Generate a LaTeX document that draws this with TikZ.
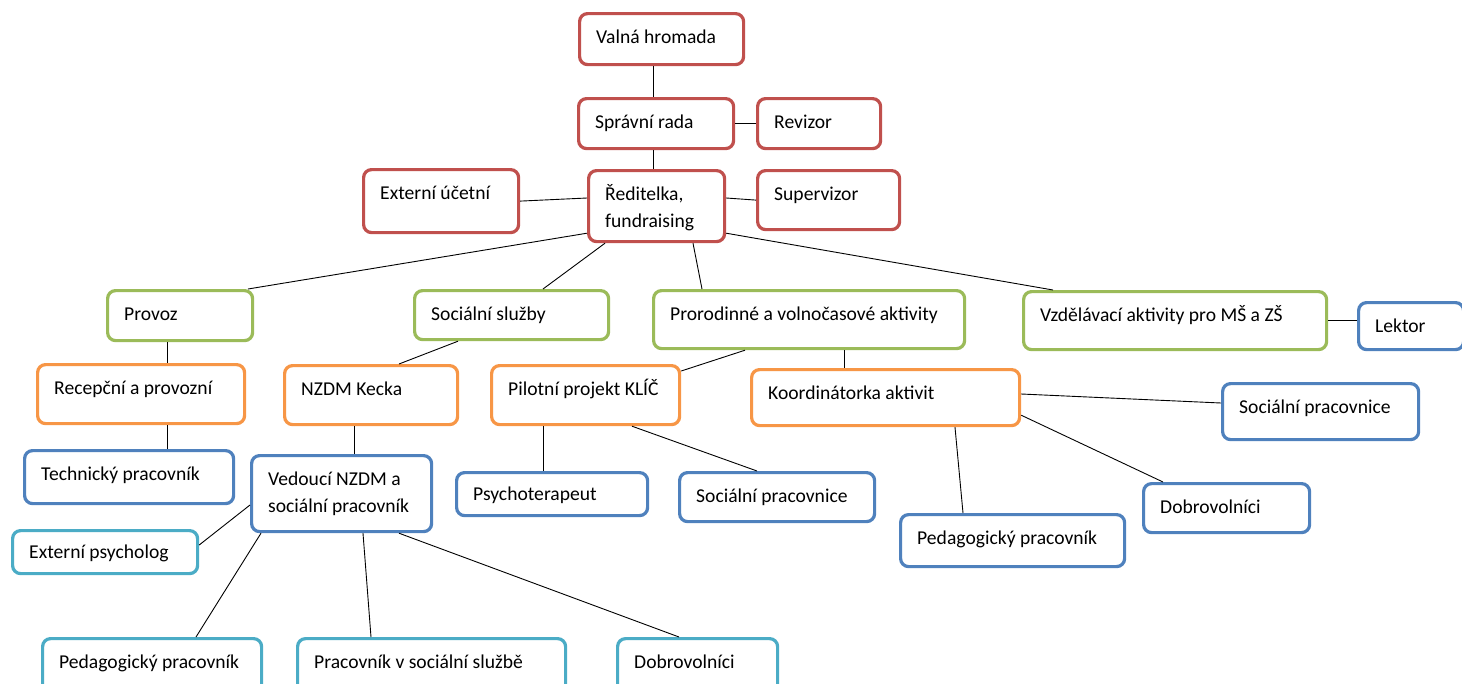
\documentclass[tikz,border=0pt]{standalone}
\usepackage{fontspec}
\setmainfont{Carlito}
\usetikzlibrary{positioning}
\definecolor{unitred}{HTML}{C0504D}
\definecolor{unitgreen}{HTML}{9BBB59}
\definecolor{unitorange}{HTML}{F79646}
\definecolor{unitblue}{HTML}{4F81BD}
\definecolor{unitaqua}{HTML}{4BACC6}
\tikzstyle{unit} = [rectangle, rounded corners=8pt, line width=3.2pt, fill=white, anchor=north west, inner sep=0pt]
\tikzstyle{board} = [unit, draw=unitred]
\tikzstyle{branch} = [unit, draw=unitgreen]
\tikzstyle{project} = [unit, draw=unitorange]
\tikzstyle{staff} = [unit, draw=unitblue]
\tikzstyle{guest} = [unit, draw=unitaqua]
\tikzstyle{caption} = [anchor=base west, inner sep=0pt, align=left, font={\fontsize{19.6}{27.5}\selectfont}]
\tikzstyle{link} = [line width=0.9pt]

\begin{document}
\begin{tikzpicture}[x=1pt, y=-1pt]
    \useasboundingbox (0,0) rectangle (1462,683);
    % top: board and management
    \node (val) [board, minimum width=164pt, minimum height=51pt] at (578,12) {};
    \node (sprava) [board, minimum width=155pt, minimum height=50pt] at (577,97) {};
    \node (revizor) [board, minimum width=123pt, minimum height=50pt] at (756,97) {};
    \node (ucetni) [board, minimum width=155pt, minimum height=63pt] at (362,168) {};
    \node (reditelka) [board, minimum width=136pt, minimum height=71pt] at (587,169) {};
    \node (supervizor) [board, minimum width=142pt, minimum height=59pt] at (756,169) {};
    % sections
    \node (provoz) [branch, minimum width=145pt, minimum height=50pt] at (106,289) {};
    \node (socsluzby) [branch, minimum width=194pt, minimum height=49pt] at (413,289) {};
    \node (prorodinne) [branch, minimum width=311pt, minimum height=58pt] at (652,289) {};
    \node (vzdelavaci) [branch, minimum width=303pt, minimum height=58pt] at (1022,290) {};
    % projects
    \node (recepcni) [project, minimum width=207pt, minimum height=59pt] at (36,363) {};
    \node (nzdm) [project, minimum width=173pt, minimum height=59pt] at (283,364) {};
    \node (pilot) [project, minimum width=188pt, minimum height=59pt] at (490,364) {};
    \node (koord) [project, minimum width=268pt, minimum height=56pt] at (750,368) {};
    % staff
    \node (lektor) [staff, minimum width=105pt, minimum height=47pt] at (1357,301) {};
    \node (technicky) [staff, minimum width=209pt, minimum height=53pt] at (23,449) {};
    \node (vedouci) [staff, minimum width=180pt, minimum height=76pt] at (250,454) {};
    \node (psycho) [staff, minimum width=191pt, minimum height=43pt] at (455,471) {};
    \node (socprac1) [staff, minimum width=195pt, minimum height=49pt] at (678,471) {};
    \node (socprac2) [staff, minimum width=196pt, minimum height=56pt] at (1221,382) {};
    \node (dobro2) [staff, minimum width=166pt, minimum height=49pt] at (1142,482) {};
    \node (pedag2) [staff, minimum width=224pt, minimum height=52pt] at (899,513) {};
    % NZDM team
    \node (extpsych) [guest, minimum width=185pt, minimum height=43pt] at (11,529) {};
    \node (pedag1) [guest, minimum width=219pt, minimum height=60pt] at (41,637) {};
    \node (pracovnik) [guest, minimum width=268pt, minimum height=60pt] at (296,637) {};
    \node (dobro1) [guest, minimum width=160pt, minimum height=60pt] at (616,637) {};

    \node (val-t) [caption] at ([shift={(18pt,-31pt)}]val.north west) {Valná hromada};
    \node (sprava-t) [caption] at ([shift={(18pt,-31pt)}]sprava.north west) {Správní rada};
    \node (revizor-t) [caption] at ([shift={(18pt,-31pt)}]revizor.north west) {Revizor};
    \node (ucetni-t) [caption] at ([shift={(18pt,-31pt)}]ucetni.north west) {Externí účetní};
    \node (reditelka-t) [caption] at ([shift={(18pt,-58.5pt)}]reditelka.north west) {Ředitelka,\\fundraising};
    \node (supervizor-t) [caption] at ([shift={(18pt,-31pt)}]supervizor.north west) {Supervizor};
    \node (provoz-t) [caption] at ([shift={(18pt,-31pt)}]provoz.north west) {Provoz};
    \node (socsluzby-t) [caption] at ([shift={(18pt,-31pt)}]socsluzby.north west) {Sociální služby};
    \node (prorodinne-t) [caption] at ([shift={(18pt,-31pt)}]prorodinne.north west) {Prorodinné a volnočasové aktivity};
    \node (vzdelavaci-t) [caption] at ([shift={(18pt,-31pt)}]vzdelavaci.north west) {Vzdělávací aktivity pro MŠ a ZŠ};
    \node (lektor-t) [caption] at ([shift={(18pt,-31pt)}]lektor.north west) {Lektor};
    \node (recepcni-t) [caption] at ([shift={(18pt,-31pt)}]recepcni.north west) {Recepční a provozní};
    \node (nzdm-t) [caption] at ([shift={(18pt,-31pt)}]nzdm.north west) {NZDM Kecka};
    \node (pilot-t) [caption] at ([shift={(18pt,-31pt)}]pilot.north west) {Pilotní projekt KLÍČ};
    \node (koord-t) [caption] at ([shift={(18pt,-31pt)}]koord.north west) {Koordinátorka aktivit};
    \node (technicky-t) [caption] at ([shift={(18pt,-31pt)}]technicky.north west) {Technický pracovník};
    \node (vedouci-t) [caption] at ([shift={(18pt,-58.5pt)}]vedouci.north west) {Vedoucí NZDM a\\sociální pracovník};
    \node (psycho-t) [caption] at ([shift={(18pt,-29pt)}]psycho.north west) {Psychoterapeut};
    \node (socprac1-t) [caption] at ([shift={(18pt,-31pt)}]socprac1.north west) {Sociální pracovnice};
    \node (socprac2-t) [caption] at ([shift={(18pt,-31pt)}]socprac2.north west) {Sociální pracovnice};
    \node (dobro2-t) [caption] at ([shift={(18pt,-31pt)}]dobro2.north west) {Dobrovolníci};
    \node (pedag2-t) [caption] at ([shift={(18pt,-31pt)}]pedag2.north west) {Pedagogický pracovník};
    \node (extpsych-t) [caption] at ([shift={(18pt,-29pt)}]extpsych.north west) {Externí psycholog};
    \node (pedag1-t) [caption] at ([shift={(18pt,-31pt)}]pedag1.north west) {Pedagogický pracovník};
    \node (pracovnik-t) [caption] at ([shift={(18pt,-31pt)}]pracovnik.north west) {Pracovník v sociální službě};
    \node (dobro1-t) [caption] at ([shift={(18pt,-31pt)}]dobro1.north west) {Dobrovolníci};

    \draw [link] ([xshift=75pt]val.south west) -- ([xshift=76pt]sprava.north west);
    \draw [link] (sprava.east) -- (revizor.west);
    \draw [link] ([xshift=76pt]sprava.south west) -- ([xshift=66pt]reditelka.north west);
    \draw [link] ([yshift=-29pt]reditelka.north east) -- (supervizor.west);
    \draw [link] ([yshift=-29pt]reditelka.north west) -- (ucetni.east);
    \draw [link] ([yshift=10pt]reditelka.south west) -- ([xshift=142pt]provoz.north west);
    \draw [link] ([xshift=18pt]reditelka.south west) -- ([xshift=130pt]socsluzby.north west);
    \draw [link] ([xshift=106pt]reditelka.south west) -- ([xshift=50pt]prorodinne.north west);
    \draw [link] ([yshift=10pt]reditelka.south east) -- ([xshift=31pt]vzdelavaci.north west);
    \draw [link] (vzdelavaci.east) -- (vzdelavaci.east -| lektor.west);
    \draw [link] ([xshift=61pt]provoz.south west) -- ([xshift=131pt]recepcni.north west);
    \draw [link] ([xshift=131pt]recepcni.south west) -- ([xshift=144pt]technicky.north west);
    \draw [link] ([xshift=45pt]socsluzby.south west) -- ([xshift=116pt]nzdm.north west);
    \draw [link] ([xshift=71pt]nzdm.south west) -- ([xshift=104pt]vedouci.north west);
    \draw [link] ([xshift=93pt]prorodinne.south west) -- ([yshift=-7pt]pilot.north east);
    \draw [link] ([xshift=192pt]prorodinne.south west) -- ([xshift=94pt]koord.north west);
    \draw [link] ([xshift=53pt]pilot.south west) -- ([xshift=88pt]psycho.north west);
    \draw [link] ([xshift=142pt]pilot.south west) -- ([xshift=79pt]socprac1.north west);
    \draw [link] ([yshift=-26pt]koord.north east) -- ([yshift=-21pt]socprac2.north west);
    \draw [link] ([yshift=12pt]koord.south east) -- ([xshift=21pt]dobro2.north west);
    \draw [link] ([xshift=205pt]koord.south west) -- ([xshift=64pt]pedag2.north west);
    \draw [link] ([yshift=-51pt]vedouci.north west) -- ([yshift=-16pt]extpsych.north east);
    \draw [link] ([xshift=11pt]vedouci.south west) -- ([xshift=155pt]pedag1.north west);
    \draw [link] ([xshift=113pt]vedouci.south west) -- ([xshift=75pt]pracovnik.north west);
    \draw [link] ([xshift=149pt]vedouci.south west) -- ([xshift=63pt]dobro1.north west);
\end{tikzpicture}
\end{document}
